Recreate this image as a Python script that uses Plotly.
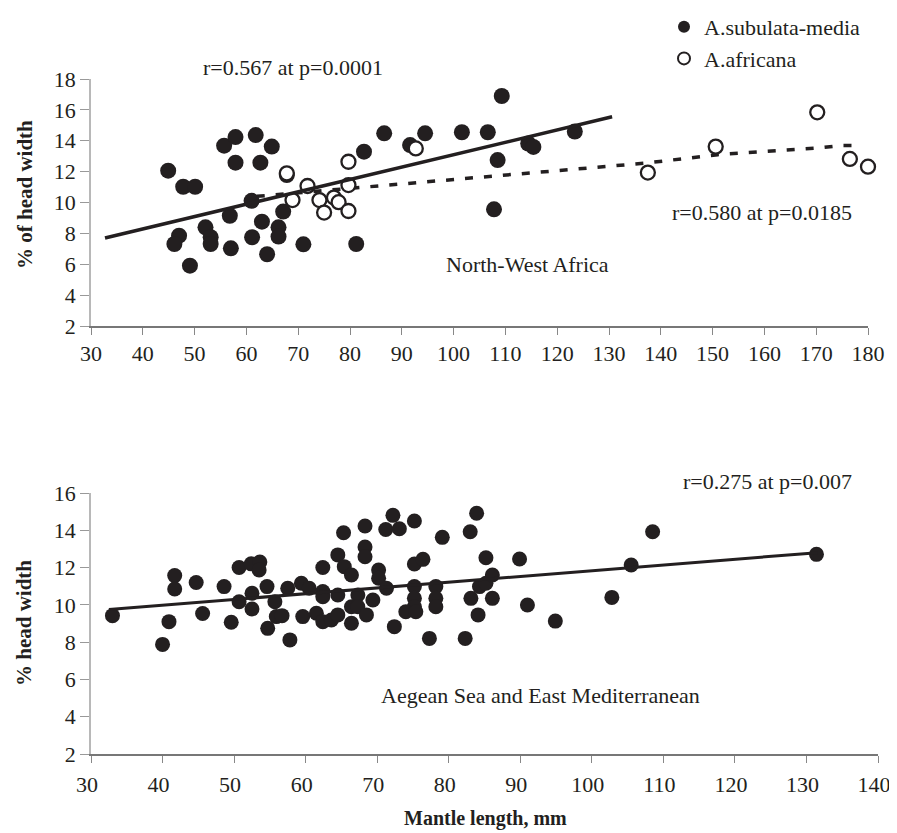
import plotly.graph_objects as go

# ---------------- data: North-West Africa ----------------
nw_sub_x = [44.9, 47.8, 50.1, 55.7, 57.9, 61.8, 64.9, 57.9, 62.7, 67.8, 61.0, 56.8, 63.0, 67.1,
            52.1, 47.0, 46.1, 53.1, 53.1, 57.0, 61.1, 66.2, 66.2, 64.0, 49.1, 71.0, 81.2, 82.7,
            86.6, 91.6, 94.5, 101.6, 106.6, 109.3, 108.5, 107.8, 114.4, 115.4, 123.4]
nw_sub_y = [12.06, 11.02, 11.02, 13.68, 14.24, 14.37, 13.62, 12.58, 12.58, 11.78, 10.11, 9.14, 8.76, 9.41,
            8.39, 7.85, 7.31, 7.75, 7.31, 7.03, 7.75, 8.39, 7.79, 6.65, 5.91, 7.29, 7.31, 13.29,
            14.48, 13.72, 14.48, 14.55, 14.55, 16.9, 12.75, 9.56, 13.82, 13.6, 14.6]

nw_afr_x = [67.8, 68.9, 71.8, 74.1, 75.0, 76.9, 77.8, 79.7, 79.7, 79.7, 92.7, 137.5, 150.6, 170.2, 176.5, 180.0]
nw_afr_y = [11.89, 10.16, 11.07, 10.16, 9.35, 10.32, 10.02, 9.45, 11.13, 12.64, 13.5, 11.94, 13.62, 15.84, 12.82, 12.32]

nw_sub_fit_x = [32.7, 130.6]
nw_sub_fit_y = [7.7, 15.55]

nw_afr_fit_x = [62.0, 137.0, 151.0, 170.0, 175.0, 178.0]
nw_afr_fit_y = [10.4, 12.55, 13.1, 13.52, 13.7, 13.7]

# ---------------- data: Aegean Sea and East Mediterranean ----------------
ae_x = [33.0, 40.0, 40.9, 41.7, 41.7, 44.7, 45.6, 48.6, 49.6, 50.7, 50.7, 52.4, 53.6, 53.5, 52.5, 52.5,
        54.6, 55.7, 54.7, 55.9, 56.7, 57.8, 57.5, 59.4, 60.5, 59.6, 61.5, 62.4, 62.4, 62.4, 62.4,
        63.6, 64.5, 64.5, 65.3, 64.5, 65.4, 66.4, 66.4, 66.4, 67.3, 67.3, 68.3, 68.3, 68.3, 69.4,
        68.5, 70.2, 70.2, 71.3, 71.2, 72.2, 73.1, 72.4, 75.2, 75.2, 76.4, 75.2, 75.2, 75.2, 74.0,
        75.4, 78.2, 78.2, 78.2, 77.3, 79.1, 82.3, 83.0, 83.9, 83.1, 84.3, 85.2, 86.1, 84.1, 85.2,
        86.1, 89.9, 91.0, 94.9, 102.8, 105.5, 108.5, 131.4]
ae_y = [9.42, 7.88, 9.1, 11.57, 10.85, 11.2, 9.54, 10.98, 9.07, 12.0, 10.17, 12.2, 12.3, 11.87, 10.62, 9.78,
        10.98, 10.17, 8.74, 9.37, 9.42, 8.12, 10.89, 11.16, 10.89, 9.37, 9.55, 12.0, 10.71, 10.44, 9.1,
        9.19, 9.46, 10.53, 13.87, 12.68, 12.05, 11.6, 9.9, 9.01, 10.53, 9.9, 14.23, 13.1, 12.58, 10.26,
        9.46, 11.87, 11.43, 10.89, 14.04, 14.8, 14.08, 8.83, 14.5, 12.19, 12.44, 10.98, 10.35, 9.9, 9.63,
        9.63, 10.98, 10.35, 9.9, 8.2, 13.62, 8.2, 13.92, 14.91, 10.35, 10.98, 11.16, 11.6, 9.46, 12.53,
        10.35, 12.46, 9.99, 9.13, 10.4, 12.14, 13.92, 12.71]

ae_fit_x = [32.5, 131.5]
ae_fit_y = [9.75, 12.8]

# ---------------- styling ----------------
W, H = 897, 833
OFF = 8  # page body margin offsets the figure by 8px
FONT = "Liberation Serif, Times New Roman, serif"
INK = "#231f20"


def px(x):
    return (x - OFF) / W


def py(y):
    return 1 - (y - OFF) / H


fig = go.Figure()

fig.add_trace(go.Scatter(x=nw_sub_x, y=nw_sub_y, mode="markers", name="A.subulata-media",
                         marker=dict(size=16, color=INK), xaxis="x", yaxis="y", cliponaxis=False))
fig.add_trace(go.Scatter(x=nw_afr_fit_x, y=nw_afr_fit_y, mode="lines", showlegend=False,
                         line=dict(color=INK, width=3.5, dash="8px,11px"), xaxis="x", yaxis="y"))
fig.add_trace(go.Scatter(x=nw_afr_x, y=nw_afr_y, mode="markers", name="A.africana",
                         marker=dict(size=14, color="white", line=dict(color=INK, width=2.3)),
                         xaxis="x", yaxis="y", cliponaxis=False))
fig.add_trace(go.Scatter(x=nw_sub_fit_x, y=nw_sub_fit_y, mode="lines", showlegend=False,
                         line=dict(color=INK, width=3.5), xaxis="x", yaxis="y"))

fig.add_trace(go.Scatter(x=ae_x, y=ae_y, mode="markers", showlegend=False,
                         marker=dict(size=15, color=INK), xaxis="x2", yaxis="y2", cliponaxis=False))
fig.add_trace(go.Scatter(x=ae_fit_x, y=ae_fit_y, mode="lines", showlegend=False,
                         line=dict(color=INK, width=3), xaxis="x2", yaxis="y2"))

base = dict(showgrid=False, zeroline=False, showline=True, ticks="outside", linewidth=1.5)
tf = dict(family=FONT, size=22, color=INK)

fig.update_layout(
    width=W, height=H,
    margin=dict(l=0, r=0, t=0, b=0, autoexpand=False),
    paper_bgcolor="white", plot_bgcolor="white",
    font=dict(family=FONT, color=INK),
    xaxis=dict(domain=[px(91), px(868)], range=[30, 180], tick0=30, dtick=10, anchor="y",
               linecolor="#777777", tickcolor="#888888", ticklen=7, tickfont=tf, **base),
    yaxis=dict(domain=[py(326), py(79)], range=[2, 18], tick0=2, dtick=2, anchor="x",
               linecolor="#b8b8b8", tickcolor="#999999", ticklen=9, tickfont=tf, **base),
    xaxis2=dict(domain=[px(91), px(878)], range=[30, 140], tick0=30, dtick=10, anchor="y2",
                linecolor="#777777", tickcolor="#888888", ticklen=7, ticklabelstandoff=3,
                ticklabelshift=-4,
                tickfont=dict(family=FONT, size=22, color=INK), **base),
    yaxis2=dict(domain=[py(754), py(493)], range=[2, 16], tick0=2, dtick=2, anchor="x2",
                linecolor="#b8b8b8", tickcolor="#999999", ticklen=9, tickfont=tf, **base),
    showlegend=True,
    legend=dict(x=px(664), y=py(6), xanchor="left", yanchor="top",
                font=dict(family=FONT, size=22, color=INK), itemsizing="constant",
                bgcolor="rgba(0,0,0,0)", tracegroupgap=0),
)

annots = [
    ("r=0.567 at p=0.0001", 293, 68, 22, 0),
    ("r=0.580 at p=0.0185", 762, 213, 22, 0),
    ("North-West Africa", 527, 265, 22, 0),
    ("r=0.275 at p=0.007", 767, 481, 22, 0),
    ("Aegean Sea and East Mediterranean", 540, 695, 22, 0),
    ("<b>% of head width</b>", 25, 195, 21, -90),
    ("<b>% head width</b>", 24, 623, 21, -90),
    ("<b>Mantle length, mm</b>", 485, 818, 20, 0),
]
for text, x, y, size, ang in annots:
    fig.add_annotation(text=text, x=px(x), y=py(y), xref="paper", yref="paper",
                       xanchor="center", yanchor="middle", showarrow=False, textangle=ang,
                       font=dict(family=FONT, size=size, color=INK))

fig.write_html("out.html")
